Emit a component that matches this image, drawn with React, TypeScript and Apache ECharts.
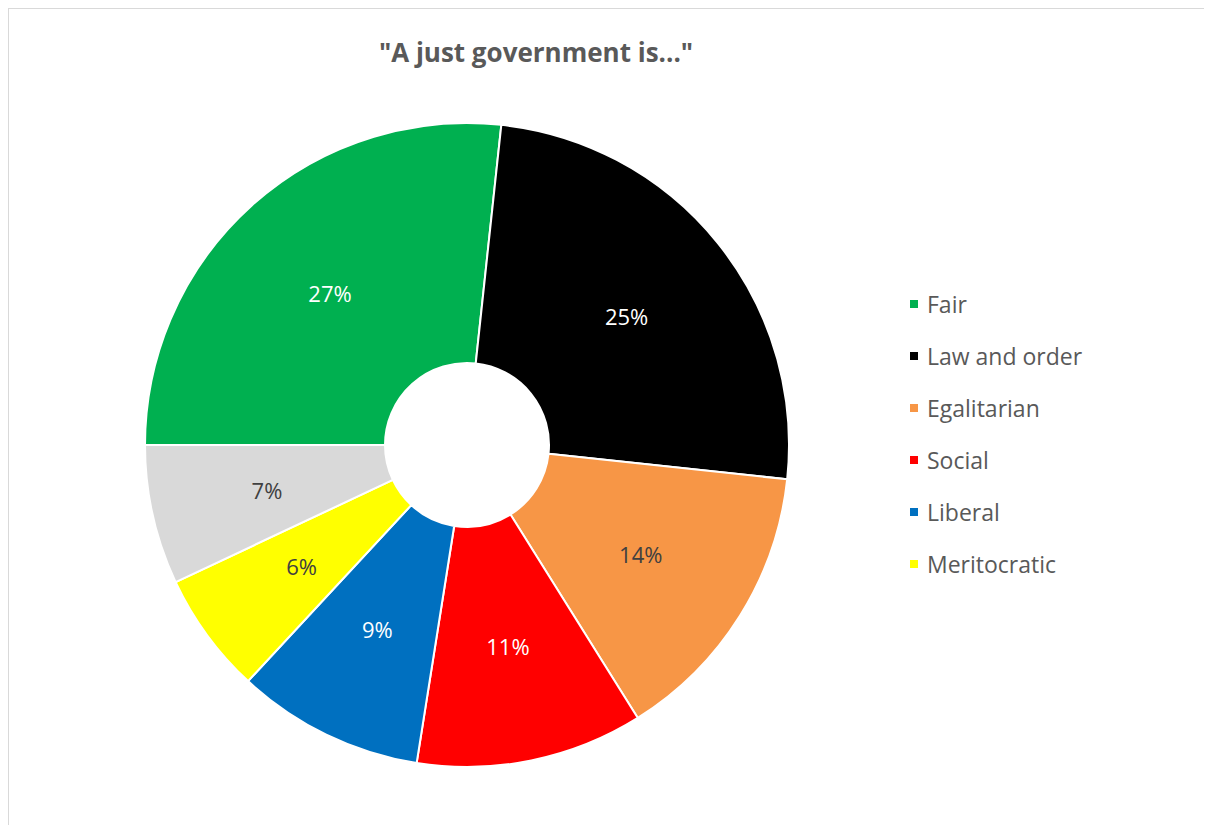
import React, { useEffect, useRef } from "react";
import * as echarts from "echarts";

const titleText = '"A just government is..."';
const categories = ["Fair", "Law and order", "Egalitarian", "Social", "Liberal", "Meritocratic", "Other"];
const values = [26.7, 25.0, 14.4, 11.4, 9.4, 6.1, 7.0];
const colors = ["#00B050", "#000000", "#F79646", "#FF0000", "#0070C0", "#FFFF00", "#D9D9D9"];
const labelColors = ["#FFFFFF", "#FFFFFF", "#404040", "#FFFFFF", "#FFFFFF", "#404040", "#404040"];
const legendNames = ["Fair", "Law and order", "Egalitarian", "Social", "Liberal", "Meritocratic"];

const FONT = "'Open Sans', 'Noto Sans', sans-serif";

export default function App() {
  const ref = useRef<HTMLDivElement>(null);
  useEffect(() => {
    document.body.style.overflow = "hidden";
    if (!ref.current) return;
    const chart = echarts.init(ref.current, undefined, { renderer: "svg" });
    chart.setOption({
      animation: false,
      backgroundColor: "#FFFFFF",
      title: {
        text: titleText,
        left: 522,
        top: 25,
        textAlign: "center",
        textStyle: { fontFamily: FONT, fontSize: 26, fontWeight: "bold", color: "#595959" },
      },
      legend: {
        orient: "vertical",
        left: 894,
        top: 278,
        itemWidth: 10,
        itemHeight: 10,
        itemGap: 28,
        icon: "rect",
        data: legendNames,
        textStyle: {
          fontFamily: FONT,
          fontSize: 23,
          lineHeight: 24,
          color: "#595959",
          padding: [0, 0, 0, 3],
        },
      },
      series: [
        {
          type: "pie",
          center: [458, 436],
          radius: [82, 322],
          startAngle: 180,
          clockwise: true,
          avoidLabelOverlap: false,
          itemStyle: { borderColor: "#FFFFFF", borderWidth: 2 },
          label: {
            show: true,
            position: "inside",
            fontFamily: FONT,
            fontSize: 22,
            formatter: (p: any) => Math.round(p.percent) + "%",
          },
          labelLine: { show: false },
          emphasis: { disabled: true },
          data: categories.map((name, i) => ({
            name,
            value: values[i],
            itemStyle: { color: colors[i] },
            label: { color: labelColors[i] },
          })),
        },
      ],
    });
    return () => chart.dispose();
  }, []);
  return (
    <div style={{ border: "1px solid #D9D9D9", width: 1230, height: 840, boxSizing: "content-box" }}>
      <div ref={ref} style={{ width: 1230, height: 840 }} />
    </div>
  );
}
